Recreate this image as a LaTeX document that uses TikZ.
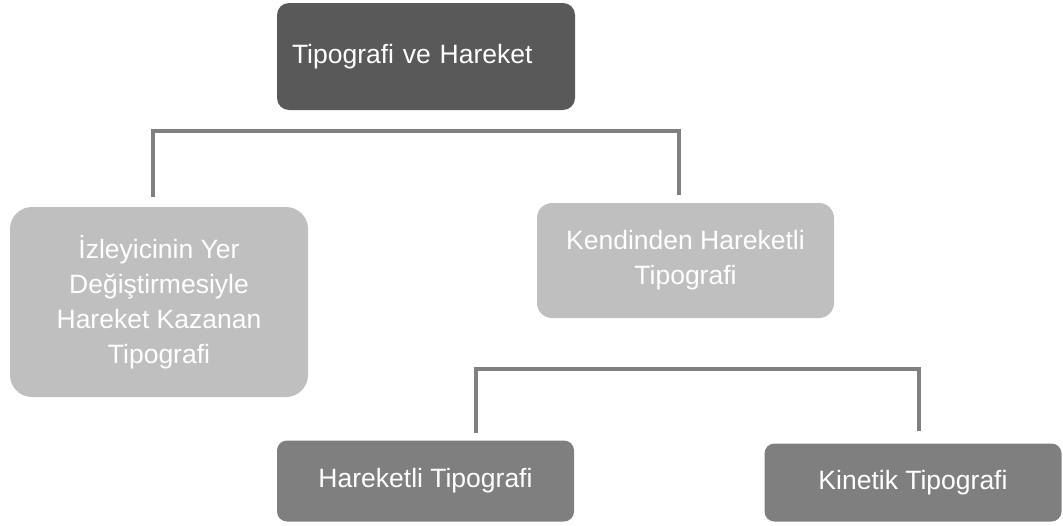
\documentclass[tikz,border=0pt]{standalone}
\usepackage{fontspec}
\setmainfont[Ligatures=NoCommon]{Liberation Sans}
\definecolor{darkbox}{HTML}{595959}
\definecolor{lightbox}{HTML}{BFBFBF}
\definecolor{midbox}{HTML}{7F7F7F}
\definecolor{linegray}{HTML}{808080}
\begin{document}
\begin{tikzpicture}[x=1pt,y=-1pt,
  box/.style={rectangle, inner sep=0pt, text=white, align=center,
    font=\fontsize{26.5}{35}\selectfont},
  conn/.style={draw=linegray, line width=4pt}]
\useasboundingbox (0,0) rectangle (1063,525);
\node[box, fill=darkbox, rounded corners=12pt, minimum height=107pt,
  text width=268pt, inner xsep=15pt, align=left] (top) at (426,56.5) {Tipografi ve Hareket};
\node[box, fill=lightbox, rounded corners=22pt, minimum width=298pt, minimum height=190pt] (left) at (159,302)
  {İzleyicinin Yer\\Değiştirmesiyle\\Hareket Kazanan\\Tipografi};
\node[box, fill=lightbox, rounded corners=15pt, minimum width=297pt, minimum height=115pt] (right) at (685.5,260.5)
  {Kendinden Hareketli\\Tipografi};
\node[box, fill=midbox, rounded corners=10pt, minimum width=297pt, minimum height=81pt] (bl) at (425.5,481)
  {Hareketli Tipografi};
\node[box, fill=midbox, rounded corners=10pt, minimum width=297pt, minimum height=78pt] (br) at (913,482.5)
  {Kinetik Tipografi};
\coordinate (L1) at (153,197);
\coordinate (R1) at (679,195);
\coordinate (H1) at (0,131);
\draw[conn] (L1) -- (L1|-H1) -- (R1|-H1) -- (R1);
\coordinate (L2) at (476,433);
\coordinate (R2) at (919,431);
\coordinate (H2) at (0,369);
\draw[conn] (L2) -- (L2|-H2) -- (R2|-H2) -- (R2);
\end{tikzpicture}
\end{document}
